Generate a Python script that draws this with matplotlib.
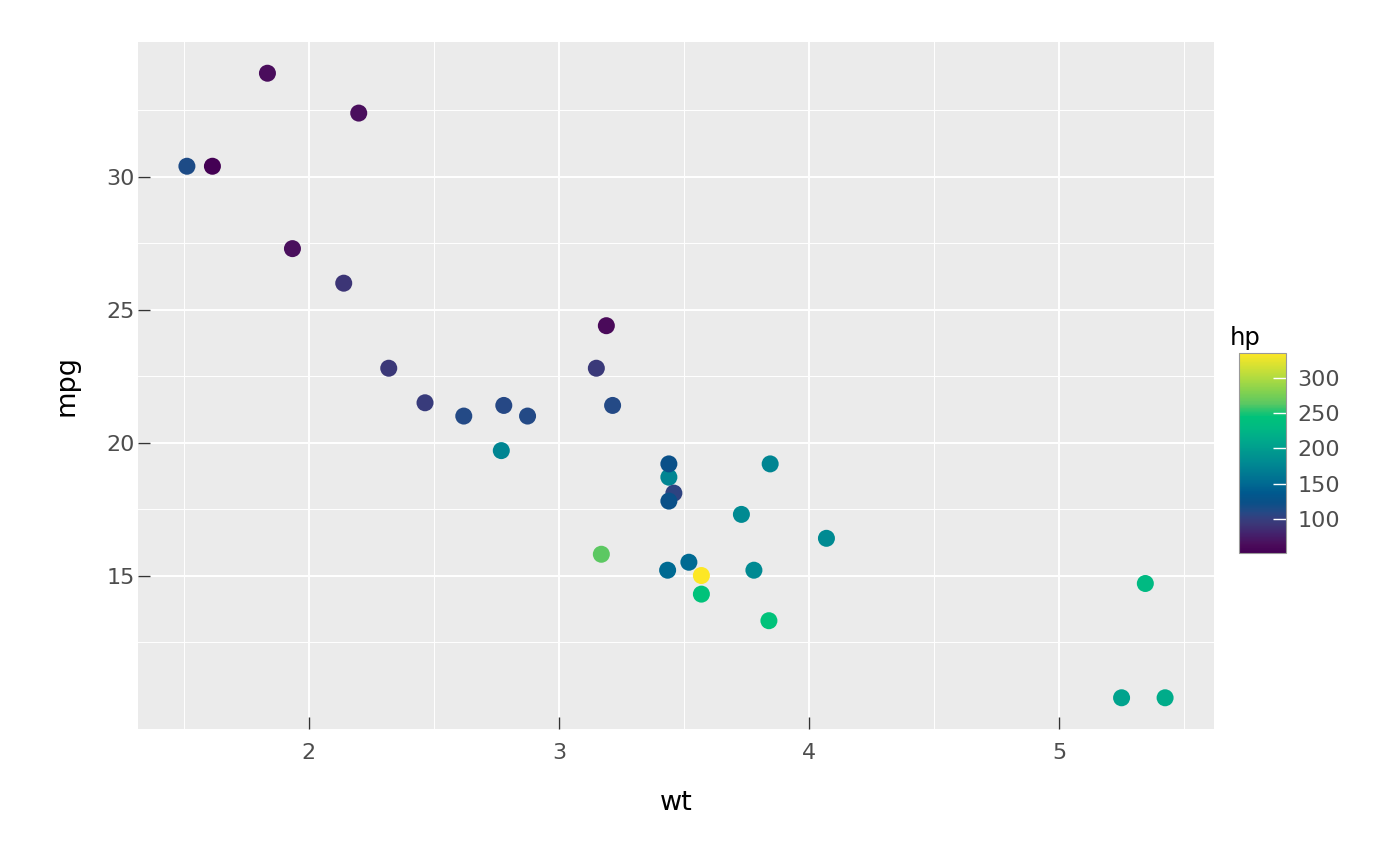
import numpy as np
import matplotlib.pyplot as plt
from matplotlib.colors import LinearSegmentedColormap
from matplotlib.ticker import FixedLocator

# mtcars: weight, mileage, horsepower
wt = [2.620, 2.875, 2.320, 3.215, 3.440, 3.460, 3.570, 3.190, 3.150, 3.440,
      3.440, 4.070, 3.730, 3.780, 5.250, 5.424, 5.345, 2.200, 1.615, 1.835,
      2.465, 3.520, 3.435, 3.840, 3.845, 1.935, 2.140, 1.513, 3.170, 2.770,
      3.570, 2.780]
mpg = [21.0, 21.0, 22.8, 21.4, 18.7, 18.1, 14.3, 24.4, 22.8, 19.2,
       17.8, 16.4, 17.3, 15.2, 10.4, 10.4, 14.7, 32.4, 30.4, 33.9,
       21.5, 15.5, 15.2, 13.3, 19.2, 27.3, 26.0, 30.4, 15.8, 19.7,
       15.0, 21.4]
hp = [110, 110, 93, 110, 175, 105, 245, 62, 95, 123,
      123, 180, 180, 180, 205, 215, 230, 66, 52, 65,
      97, 150, 150, 245, 175, 66, 91, 113, 264, 175,
      335, 109]
x_ticks = [2, 3, 4, 5]
y_ticks = [15, 20, 25, 30]
x_minor = [1.5, 2.5, 3.5, 4.5, 5.5]
y_minor = [12.5, 17.5, 22.5, 27.5, 32.5]
hp_ticks = [100, 150, 200, 250, 300]

# colour ramp (hp value -> colour)
ramp_hp = [52, 62, 66, 80, 93, 100, 110, 123, 137, 150, 165, 180, 193,
           205, 215, 230, 245, 252, 264, 278, 300, 335]
ramp_col = ['#440154', '#4A0A5A', '#4A105E', '#43246E', '#3B3878', '#353E7E',
            '#234A86', '#0A5088', '#00598E', '#006A92', '#007A92', '#008A92',
            '#00968F', '#00A38D', '#00AC8A', '#00BA82', '#00C27A', '#20C472',
            '#5CC862', '#7CD052', '#B0DB40', '#FDE725']

lo, hi = min(hp), max(hp)
cmap = LinearSegmentedColormap.from_list(
    'ref', [((v - lo) / (hi - lo), c) for v, c in zip(ramp_hp, ramp_col)])

W, H = 1400, 866
fig = plt.figure(figsize=(14, 8.66), dpi=100)
ax = fig.add_axes([138 / W, 1 - 729 / H, (1214 - 138) / W, (729 - 42) / H])
ax.set_facecolor('#EBEBEB')
for s in ax.spines.values():
    s.set_visible(False)

sc = ax.scatter(wt, mpg, c=hp, cmap=cmap, vmin=lo, vmax=hi,
                s=150, linewidths=0, zorder=3)

# 5% expansion like ggplot
xr = max(wt) - min(wt)
yr = max(mpg) - min(mpg)
ax.set_xlim(min(wt) - 0.05 * xr, max(wt) + 0.05 * xr)
ax.set_ylim(min(mpg) - 0.05 * yr, max(mpg) + 0.05 * yr)

ax.set_xticks(x_ticks)
ax.set_yticks(y_ticks)
ax.xaxis.set_minor_locator(FixedLocator(x_minor))
ax.yaxis.set_minor_locator(FixedLocator(y_minor))
ax.grid(which='major', color='white', lw=1.4, zorder=0)
ax.grid(which='minor', color='white', lw=0.7, zorder=0)
ax.set_axisbelow(True)
ax.tick_params(which='minor', length=0)
ax.tick_params(axis='x', which='major', direction='in', length=8.6, width=1,
               color='#333333', pad=10, labelsize=16, labelcolor='#4D4D4D')
ax.tick_params(axis='y', which='major', direction='in', length=8.6, width=1,
               color='#333333', pad=2.5, labelsize=16, labelcolor='#4D4D4D')

fig.text(67 / W, 1 - 385 / H, 'mpg', rotation=90, ha='center', va='center',
         fontsize=19.5, color='black')
fig.text(676 / W, 1 - 803 / H, 'wt', ha='center', va='center',
         fontsize=19.5, color='black')

# colour bar
cax = fig.add_axes([1239 / W, 1 - 553 / H, 47 / W, 200 / H])
cb = fig.colorbar(sc, cax=cax, ticks=hp_ticks)
cb.outline.set_edgecolor('#999999')
cb.outline.set_linewidth(0.8)
cax.tick_params(direction='in', length=9.5, width=1, color='white', pad=8,
                labelsize=16, labelcolor='#4D4D4D')
fig.text(1230 / W, 1 - 338 / H, 'hp', ha='left', va='center',
         fontsize=17.5, color='black')

fig.savefig('out.png', dpi=100, facecolor='white')
